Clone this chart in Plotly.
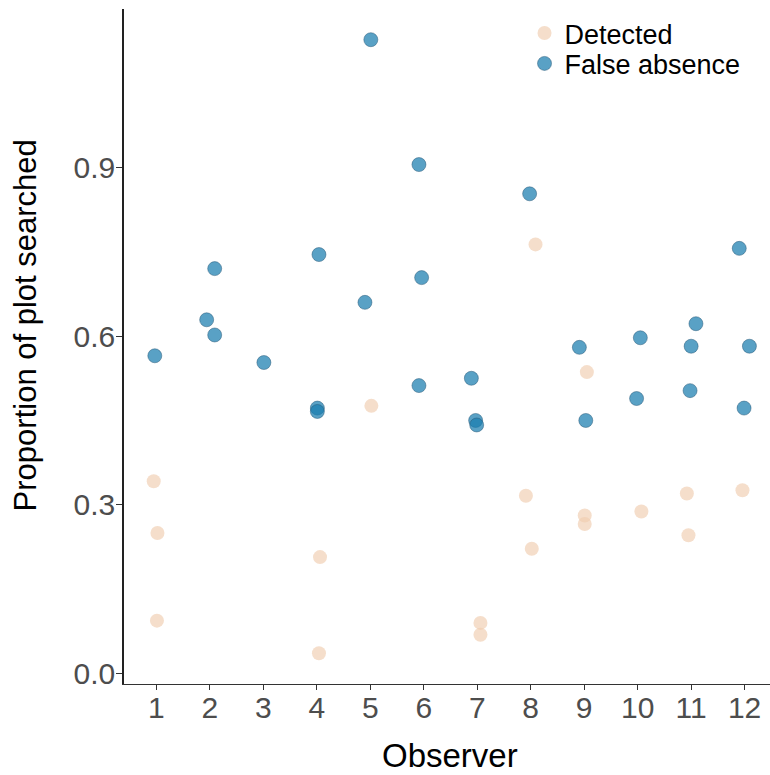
import plotly.graph_objects as go

# Detected cases: observer id, horizontal jitter, proportion of plot searched
det_observer = [1, 1, 1, 4, 4, 5, 7, 7, 8, 8, 8, 9, 9, 9, 10, 11, 11, 12]
det_jitter = [-0.05, 0.02, 0.01, 0.06, 0.04, 0.02, 0.06, 0.06, 0.09, -0.09, 0.02,
              0.05, 0.01, 0.01, 0.07, -0.08, -0.05, -0.04]
det_prop = [0.342, 0.250, 0.094, 0.207, 0.036, 0.476, 0.090, 0.069, 0.763, 0.316, 0.222,
            0.536, 0.281, 0.266, 0.288, 0.320, 0.246, 0.326]

# False absences
fa_observer = [1, 2, 2, 2, 3, 4, 4, 4, 5, 5, 6, 6, 6, 7, 7, 7, 8, 9, 9, 10, 10,
               11, 11, 11, 12, 12, 12]
fa_jitter = [-0.03, 0.09, -0.06, 0.09, 0.01, 0.04, 0.01, 0.01, 0.01, -0.10, -0.09, -0.04,
             -0.09, -0.11, -0.03, -0.01, -0.02, -0.09, 0.03, 0.05, -0.02, 0.09, 0.0, -0.02,
             -0.10, 0.09, -0.01]
fa_prop = [0.565, 0.720, 0.629, 0.602, 0.553, 0.745, 0.472, 0.466, 1.127, 0.660, 0.905,
           0.704, 0.512, 0.525, 0.450, 0.442, 0.853, 0.580, 0.450, 0.597, 0.489, 0.622,
           0.582, 0.503, 0.756, 0.582, 0.472]

x_ticks = list(range(1, 13))
y_ticks = [0.0, 0.3, 0.6, 0.9]
y_tick_text = ["0.0", "0.3", "0.6", "0.9"]

FONT = "Liberation Sans, Arial, sans-serif"

fig = go.Figure()
fig.add_trace(go.Scatter(
    x=[o + j for o, j in zip(det_observer, det_jitter)], y=det_prop,
    mode="markers", name="Detected", legend="legend",
    marker=dict(size=14, color="rgba(240,205,175,0.65)", line=dict(width=0)),
))
fig.add_trace(go.Scatter(
    x=[o + j for o, j in zip(fa_observer, fa_jitter)], y=fa_prop,
    mode="markers", name="False absence", legend="legend2",
    marker=dict(size=14, color="rgba(25,125,175,0.72)",
                line=dict(width=0.8, color="rgba(35,85,115,0.6)")),
))

legend_style = dict(
    x=0.62, xanchor="left", yanchor="top",
    bgcolor="rgba(0,0,0,0)", font=dict(size=27, color="black", family=FONT),
    itemsizing="trace", borderwidth=0,
)

fig.update_layout(
    width=770, height=775,
    margin=dict(l=124, r=0, t=9, b=91),
    paper_bgcolor="white", plot_bgcolor="white",
    font=dict(family=FONT, color="black"),
    showlegend=True,
    legend=dict(y=1.0, **legend_style),
    legend2=dict(y=0.955, **legend_style),
    xaxis=dict(
        range=[0.394, 12.475], tickmode="array", tickvals=x_ticks,
        ticktext=[str(v) for v in x_ticks],
        showgrid=False, zeroline=False,
        showline=True, linecolor="#333333", linewidth=1.2,
        ticks="outside", ticklen=5, tickcolor="#333333",
        tickfont=dict(size=30, color="#4D4D4D"),
        ticklabelstandoff=-8,
    ),
    yaxis=dict(
        range=[-0.0186, 1.1816], tickmode="array", tickvals=y_ticks,
        ticktext=y_tick_text,
        showgrid=False, zeroline=False,
        showline=True, linecolor="#222222", linewidth=1.5,
        ticks="outside", ticklen=6, tickcolor="#333333",
        tickfont=dict(size=30, color="#4D4D4D"),
        ticklabelstandoff=-5,
    ),
    annotations=[
        dict(text="Observer", xref="paper", yref="paper", x=0.505, y=-0.106,
             xanchor="center", yanchor="middle", showarrow=False,
             font=dict(size=33, color="black", family=FONT)),
        dict(text="Proportion of plot searched", xref="paper", yref="paper",
             x=-0.152, y=0.531, xanchor="center", yanchor="middle", textangle=-90,
             showarrow=False, font=dict(size=31, color="black", family=FONT)),
    ],
)

fig.write_html("out.html")
